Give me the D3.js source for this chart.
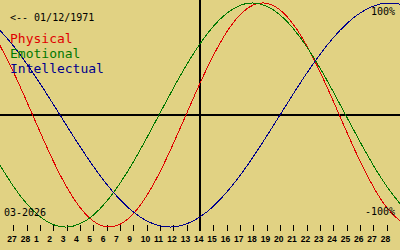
<!DOCTYPE html>
<html><head><meta charset="utf-8">
<script src="https://cdn.jsdelivr.net/npm/d3@7"></script>
<style>html,body{margin:0;padding:0;background:#e1d283;overflow:hidden}</style>
</head><body>
<svg id="c" width="400" height="250"></svg>
<script>
// Day tick labels (positions 1..29); the original skips "8"
const tickLabels = ["27","28","1","2","3","4","5","6","7","9","10","11","12","13","14","15","16","17","18","19","20","21","22","23","24","25","26","27","28"];
// Curve values (-1..1) at day positions 0..30
const physical = [0.62,0.385,0.122,-0.15,-0.412,-0.642,-0.825,-0.947,-0.998,-0.976,-0.881,-0.721,-0.508,-0.256,0.014,0.283,0.531,0.74,0.894,0.982,0.997,0.938,0.809,0.62,0.386,0.123,-0.15,-0.411,-0.641,-0.825,-0.947];
const emotional = [-0.449,-0.636,-0.792,-0.908,-0.979,-1.0,-0.971,-0.894,-0.771,-0.61,-0.419,-0.206,0.017,0.239,0.449,0.636,0.792,0.908,0.979,1.0,0.971,0.894,0.771,0.61,0.419,0.206,-0.017,-0.239,-0.449,-0.636,-0.792];
const intellectual = [0.756,0.618,0.458,0.282,0.095,-0.095,-0.282,-0.458,-0.618,-0.756,-0.866,-0.945,-0.99,-0.999,-0.972,-0.91,-0.815,-0.69,-0.541,-0.372,-0.189,0.0,0.189,0.372,0.541,0.69,0.815,0.91,0.972,0.999,0.99];
const seriesNames = ["Physical","Emotional","Intellectual"];
const seriesColors = ["#e00000","#007800","#00008c"];
const birthLabel = "<-- 01/12/1971";
const monthLabel = "03-2026";
const todayIndex = 15;

const svg = d3.select("#c");
const x = d3.scaleLinear().domain([0,30]).range([0,400]);
const y = d3.scaleLinear().domain([-1,1]).range([227,3]);

svg.append("rect").attr("width",400).attr("height",250).attr("fill","#e1d283");

// zero line and today line
svg.append("line").attr("x1",0).attr("x2",400).attr("y1",y(0)).attr("y2",y(0))
  .attr("stroke","#000").attr("stroke-width",2).attr("shape-rendering","crispEdges");
svg.append("line").attr("x1",x(todayIndex)).attr("x2",x(todayIndex)).attr("y1",0).attr("y2",231)
  .attr("stroke","#000").attr("stroke-width",2).attr("shape-rendering","crispEdges");

// bottom axis
const tickPos = tickLabels.map((d,i)=>i+1);
const axis = svg.append("g");
axis.selectAll("line.t").data(tickPos).join("line")
  .attr("x1",d=>Math.round(x(d))+0.5).attr("x2",d=>Math.round(x(d))+0.5)
  .attr("y1",225).attr("y2",231).attr("stroke","#000").attr("stroke-width",1);
axis.selectAll("text").data(tickLabels).join("text")
  .attr("x",(d,i)=>x(i+1)-6).attr("y",242)
  .attr("font-family","Liberation Sans").attr("font-weight","bold").attr("font-size",8.5)
  .attr("fill","#000").text(d=>d);

// curves
const line = d3.line().x((d,i)=>x(i)).y(d=>y(d)).curve(d3.curveNatural);
[physical,emotional,intellectual].forEach((s,k)=>{
  svg.append("path").attr("d",line(s)).attr("fill","none")
    .attr("stroke",seriesColors[k]).attr("stroke-width",1).attr("shape-rendering","crispEdges");
});

// texts
const mono = "DejaVu Sans Mono";
svg.append("text").attr("x",10).attr("y",21).attr("font-family",mono).attr("font-size",10).attr("fill","#000").text(birthLabel);
seriesNames.forEach((n,k)=>{
  svg.append("text").attr("x",10).attr("y",43+15*k).attr("font-family",mono).attr("font-size",13)
    .attr("fill",seriesColors[k]).text(n);
});
svg.append("text").attr("x",395).attr("y",15).attr("text-anchor","end").attr("font-family",mono).attr("font-size",10).attr("fill","#000").text("100%");
svg.append("text").attr("x",395).attr("y",215).attr("text-anchor","end").attr("font-family",mono).attr("font-size",10).attr("fill","#000").text("-100%");
svg.append("text").attr("x",4).attr("y",216).attr("font-family",mono).attr("font-size",10).attr("fill","#000").text(monthLabel);
</script>
</body></html>
